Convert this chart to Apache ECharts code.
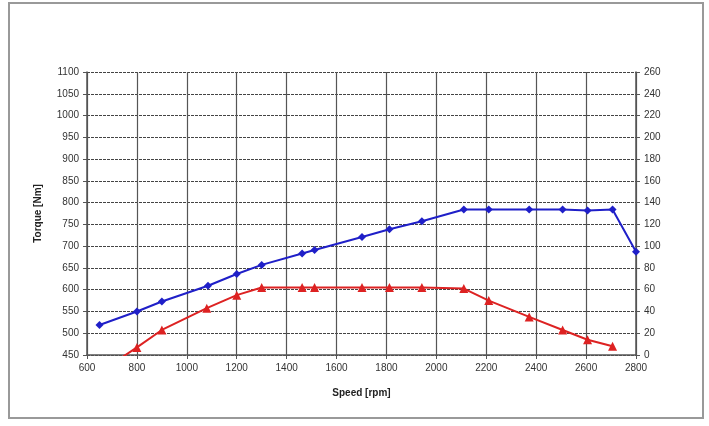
<!DOCTYPE html>
<html>
<head>
<meta charset="utf-8">
<script src="https://cdn.jsdelivr.net/npm/echarts@6/dist/echarts.min.js"></script>
<style>
html,body{margin:0;padding:0;background:#fff;}
#chart{width:709px;height:426px;}
</style>
</head>
<body>
<div id="chart"></div>
<script>
// Torque curve (left axis, Nm)
var torqueSpeed = [650, 800, 900, 1085, 1200, 1300, 1462, 1512, 1702, 1812, 1942, 2110, 2210, 2372, 2506, 2606, 2706, 2800];
var torqueValues = [519, 550, 573, 609, 636, 657, 683, 691, 721, 739, 757, 784, 784, 784, 784, 782, 784, 687];
// Second curve (right axis)
var powerSpeed = [650, 800, 900, 1080, 1200, 1300, 1462, 1512, 1702, 1812, 1942, 2110, 2210, 2372, 2506, 2606, 2706];
var powerValues = [-16, 7, 23, 43, 55, 62, 62, 62, 62, 62, 62, 61, 50, 35, 23, 14, 8];
var xTicks = {min: 600, max: 2800, interval: 200};
var leftTicks = {min: 450, max: 1100, interval: 50};
var rightTicks = {min: 0, max: 260, interval: 20};

function pairs(xs, ys) { return xs.map(function (x, i) { return [x, ys[i]]; }); }
function plain(v) { return String(v); }

var chart = echarts.init(document.getElementById('chart'), null, {renderer: 'canvas'});
var labelStyle = {color: '#333', fontSize: 10, fontFamily: 'Liberation Sans, Arial, sans-serif', formatter: plain};
chart.setOption({
  animation: false,
  backgroundColor: '#fff',
  graphic: [{
    type: 'rect', shape: {x: 9, y: 3, width: 694, height: 415},
    style: {fill: 'none', stroke: '#999', lineWidth: 2}, silent: true, z: -1
  }],
  grid: {left: 87, right: 73, top: 72, bottom: 71, containLabel: false},
  xAxis: {
    type: 'value', min: xTicks.min, max: xTicks.max, interval: xTicks.interval,
    name: 'Speed [rpm]', nameLocation: 'middle', nameGap: 33,
    nameTextStyle: {color: '#222', fontSize: 10, fontWeight: 'bold', fontFamily: 'Liberation Sans, Arial, sans-serif'},
    axisLine: {show: true, lineStyle: {color: '#555', width: 1.5}},
    axisTick: {show: true, length: 4, lineStyle: {color: '#555'}},
    axisLabel: Object.assign({margin: 8}, labelStyle),
    splitLine: {show: true, lineStyle: {color: '#555', width: 1.2}}
  },
  yAxis: [{
    type: 'value', min: leftTicks.min, max: leftTicks.max, interval: leftTicks.interval,
    name: 'Torque [Nm]', nameLocation: 'middle', nameGap: 44,
    nameTextStyle: {color: '#222', fontSize: 10, fontWeight: 'bold', fontFamily: 'Liberation Sans, Arial, sans-serif'},
    axisLine: {show: true, lineStyle: {color: '#555', width: 1.5}},
    axisTick: {show: true, length: 4, lineStyle: {color: '#555'}},
    axisLabel: Object.assign({margin: 8}, labelStyle),
    splitLine: {show: true, lineStyle: {color: '#444', width: 1.2, type: [3, 1]}}
  }, {
    type: 'value', min: rightTicks.min, max: rightTicks.max, interval: rightTicks.interval,
    position: 'right',
    axisLine: {show: true, lineStyle: {color: '#555', width: 1.5}},
    axisTick: {show: true, length: 4, lineStyle: {color: '#555'}},
    axisLabel: Object.assign({margin: 8}, labelStyle),
    splitLine: {show: false}
  }],
  series: [{
    type: 'line', yAxisIndex: 0, data: pairs(torqueSpeed, torqueValues),
    symbol: 'diamond', symbolSize: 8, clip: true,
    lineStyle: {color: '#1f1fc8', width: 2},
    itemStyle: {color: '#1f1fc8'}
  }, {
    type: 'line', yAxisIndex: 1, data: pairs(powerSpeed, powerValues),
    symbol: 'triangle', symbolSize: 9, clip: true,
    lineStyle: {color: '#dd2222', width: 2},
    itemStyle: {color: '#dd2222'}
  }]
});
</script>
</body>
</html>
